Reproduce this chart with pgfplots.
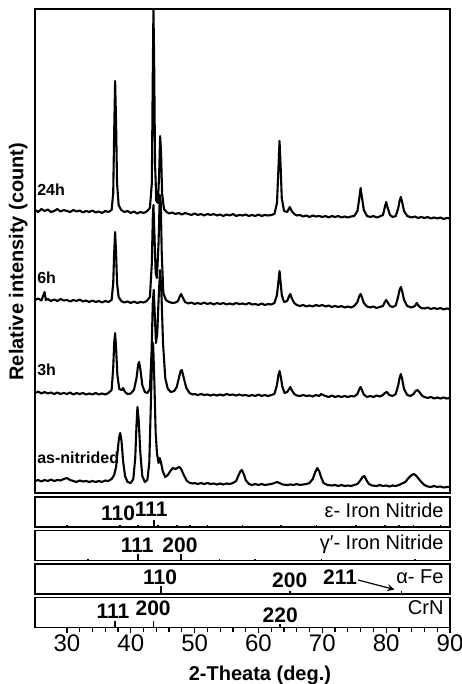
\documentclass[border=0pt]{standalone}
\usepackage{fontspec}
\setmainfont{Liberation Sans}
\usepackage{pgfplots}
\pgfplotsset{compat=1.18}

% diffraction patterns, offset in plot units (1 unit = 0.5pt)
\pgfplotstableread{
x y
25 283
25.5 281
26 284
26.5 282
27 283.5
27.5 281
28 282
28.5 284
29 281.5
29.5 283
30 282
30.5 281
31 283
31.5 281.5
32 282.5
32.5 280.5
33 282
33.5 281
34 282.5
34.5 280.5
35 281.5
35.5 280
36 282
36.5 281
37 283
37.25 300
37.4 360
37.55 412
37.7 370
37.85 310
38.1 288
38.5 283
39 281
39.5 282
40 280
40.5 281.5
41 279.5
41.5 281
42 280
42.5 281.5
43 285
43.3 310
43.45 420
43.55 483
43.65 440
43.8 330
44 292
44.25 290
44.45 320
44.6 357
44.75 340
44.9 300
45.2 284
45.6 281
46 279.5
46.5 280.5
47 279
47.5 280
48 278.5
48.5 280
49 279
49.5 278
50 279.5
50.5 278
51 279
51.5 277.5
52 279
52.5 278
53 279
53.5 277.5
54 278.5
54.5 277
55 278.5
55.5 277.5
56 279
56.5 277
57 278
57.5 277.5
58 278.5
58.5 277
59 278
59.5 277
60 278.5
60.5 277
61 278
61.5 277.5
62 278
62.5 279
62.9 290
63.1 320
63.3 352
63.45 330
63.65 295
64 282
64.5 281
64.9 286
65.2 282
65.6 279
66 277.5
66.5 278
67 276.5
67.5 277.5
68 276
68.5 277.5
69 276.5
69.5 277
70 276
70.5 277
71 275.5
71.5 277
72 276
72.5 277
73 275.5
73.5 276.5
74 275.5
74.5 276.5
75 277
75.5 282
75.8 295
76 305
76.2 296
76.5 283
77 277
77.5 276
78 277
78.5 275.5
79 276.5
79.5 278
79.8 286
80 291
80.2 286
80.6 278
81 276
81.5 277
81.9 285
82.1 292
82.3 296
82.5 291
82.8 282
83.3 277
84 275.5
84.5 276.5
85 275
85.5 276
86 275
86.5 276
87 274.5
87.5 275.5
88 274.5
88.5 275.5
89 274
89.5 275
90 274.5
}\hTwentyFour

\pgfplotstableread{
x y
25 193
25.5 194.5
26 192.5
26.5 201
26.7 193
27 194
27.5 192
28 193.5
28.5 192
29 194
29.5 192.5
30 193
30.5 191.5
31 193
31.5 192
32 193.5
32.5 191.5
33 192.5
33.5 191
34 192.5
34.5 191
35 192
35.5 190.5
36 192
36.5 191
37 193
37.25 210
37.4 240
37.55 261
37.7 240
37.85 210
38.1 196
38.5 192
39 190.5
39.5 191.5
40 190
40.5 191.5
41 190
41.5 191
42 190.5
42.5 192
43 196
43.3 230
43.45 275
43.55 288
43.7 260
43.9 220
44.1 215
44.35 250
44.55 298
44.7 290
44.85 240
45.1 200
45.5 193
46 191
46.5 190
47 190.5
47.4 192
47.7 197
47.9 199
48.1 196
48.5 191
49 189.5
49.5 190.5
50 189
50.5 190
51 189
51.5 190.5
52 189
52.5 190
53 188.5
53.5 190
54 189
54.5 190
55 188.5
55.5 189.5
56 188.5
56.5 190
57 189
57.5 189.5
58 188.5
58.5 190
59 188.5
59.5 189
60 188
60.5 189.5
61 188
61.5 189
62 188.5
62.5 190
62.9 198
63.1 210
63.3 222
63.45 212
63.65 198
64 191
64.5 192
64.8 197
65 199
65.2 195
65.6 190
66 188
66.5 187
67 188
67.5 186.5
68 187.5
68.5 186.5
69 188
69.5 187
70 188
70.5 186.5
71 187.5
71.5 186
72 187
72.5 186
73 187
73.5 185.5
74 186.5
74.5 185.5
75 187
75.5 191
75.8 197
76 199
76.2 196
76.5 190
77 186.5
77.5 185.5
78 186.5
78.5 185
79 186
79.5 187
79.8 191
80 193
80.2 191
80.6 187
81 186
81.5 187.5
81.9 197
82.1 203
82.3 206
82.5 202
82.8 193
83.3 187
84 185.5
84.5 187
84.8 190
85.1 187
85.5 185
86 184.5
86.5 185.5
87 184
87.5 185
88 184
88.5 185
89 183.5
89.5 184.5
90 184
}\hSix

\pgfplotstableread{
x y
25 100
25.5 101.5
26 99.5
26.5 101
27 99.5
27.5 100.5
28 99
28.5 100.5
29 99
29.5 100
30 99
30.5 100.5
31 98.5
31.5 100
32 99
32.5 100
33 98.5
33.5 99.5
34 98.5
34.5 100
35 98.5
35.5 99.5
36 98.5
36.5 100
37 103
37.25 125
37.4 150
37.55 160
37.7 145
37.9 118
38.2 104
38.6 103
38.8 105
39.1 101
39.5 99
40 99.5
40.5 103
40.9 115
41.15 128
41.3 131
41.5 124
41.8 108
42.2 101
42.6 100
43 104
43.25 140
43.45 190
43.6 203
43.75 180
43.95 150
44.15 160
44.4 200
44.6 223
44.8 200
45.05 150
45.4 115
45.8 104
46.3 101
46.8 102
47.2 106
47.5 114
47.8 122
48 123
48.3 115
48.7 105
49.2 100
49.7 98.5
50 99
50.5 98
51 99
51.5 98
52 98.5
52.5 97.5
53 98.5
53.5 97.5
54 98.5
54.5 97.5
55 99
55.5 98
56 98.5
56.5 97.5
57 98.5
57.5 97.5
58 98
58.5 97
59 98
59.5 97
60 98.5
60.5 97
61 98
61.5 97
62 98
62.5 99
62.9 108
63.1 117
63.3 122
63.5 116
63.75 106
64.1 100
64.5 101
64.8 104
65 106
65.2 103
65.6 99
66 97.5
66.5 97
67 98
67.5 97
68 97.5
68.5 96.5
69 98
69.5 97
69.8 99
70.1 98
70.5 97
71 96
71.5 97.5
72 96
72.5 97
73 96
73.5 97
74 96
74.5 97
75 96.5
75.5 99
75.8 104
76 106
76.2 103
76.5 98.5
77 96
77.5 97
78 96
78.5 97.5
79 96.5
79.5 98
79.8 100
80.1 101
80.5 98
81 97
81.5 99
81.9 108
82.1 115
82.3 119
82.5 114
82.8 104
83.3 98
83.8 97
84.3 99
84.6 102
84.9 103
85.2 101
85.6 97.5
86 96
86.5 95
87 96
87.5 94.5
88 95.5
88.5 94.5
89 95.5
89.5 94.5
90 95
}\hThree

\pgfplotstableread{
x y
25 12
25.5 13
26 11.5
26.5 13
27 12
27.5 13.5
28 12
28.5 13
29 12.5
29.5 14
30 15
30.5 13
31 12
31.5 11
32 12.5
32.5 11.5
33 12
33.5 11
34 12
34.5 11
35 12
35.5 11
36 12.5
36.5 12
37 14
37.4 18
37.7 26
37.95 42
38.15 55
38.35 60
38.55 52
38.8 32
39.1 17
39.5 11
40 10
40.4 14
40.7 35
40.9 68
41.05 86
41.25 72
41.5 40
41.8 17
42.2 11
42.6 13
42.9 30
43.15 90
43.35 140
43.5 150
43.7 110
43.9 60
44.1 40
44.35 30
44.55 35
44.75 30
45 22
45.4 16
45.8 18
46.2 22
46.6 25
47 24
47.3 25
47.6 26
47.9 24
48.3 18
48.8 12
49.3 10
49.8 9.5
50 10
50.5 9
51 10
51.5 9
52 10
52.5 9
53 9.5
53.5 8.5
54 9.5
54.5 8.5
55 9.5
55.5 9
56 10
56.5 12
56.9 18
57.2 22
57.4 23
57.7 19
58 13
58.5 9
59 8
59.5 9
60 8
60.5 9
61 8
61.5 8.5
62 9
62.5 10
62.9 11
63.3 10
63.8 8.5
64.5 8
65 8.5
65.5 8
66 9
66.5 8
67 8.5
67.5 9
68 10
68.5 14
68.9 21
69.2 25
69.5 22
69.8 16
70.2 10
70.8 8
71.5 7.5
72 8
72.5 7
73 8
73.5 7
74 7.5
74.5 7
75 8
75.5 9
76 13
76.3 16
76.6 17
76.9 13
77.3 9
77.8 7.5
78.5 7
79 8
79.5 7
80 7.5
80.5 6.5
81 7.5
81.5 7
82 8
82.5 9.5
83 11
83.5 15
84 18
84.3 19
84.6 18
85 15
85.5 11
86 8
86.5 6.5
87 6
87.5 7
88 6
88.5 6.5
89 5.5
89.5 6
90 6
}\hAsNit

\begin{document}
\begin{tikzpicture}
\useasboundingbox (-17.5pt,-95.5pt) rectangle (213pt,246.5pt);
\pgfplotsset{
  panel/.style={scale only axis, width=207.5pt, height=15pt,
    xmin=25, xmax=90, ymin=0, ymax=30,
    axis line style={line width=0.8pt}, xtick=\empty, ytick=\empty, clip=false},
  refl/.style={ycomb, black, line width=0.8pt, no marks},
}
\newcommand{\hkl}{\bfseries\fontsize{10.5}{12}\selectfont}
\newcommand{\phase}{\fontsize{10}{12}\selectfont}
\newcommand{\curve}{\bfseries\fontsize{8}{9.5}\selectfont}

\begin{axis}[name=main, at={(0,0)}, anchor=south west, scale only axis,
  width=207.5pt, height=242pt, xmin=25, xmax=90, ymin=0, ymax=484,
  xtick=\empty, ytick=\empty, axis line style={line width=0.8pt},
  ylabel={Relative intensity (count)},
  ylabel style={font=\bfseries\fontsize{10}{12}\selectfont, inner sep=0pt,
    at={(axis description cs:-0.0169,0.478)}, anchor=south},
]
\addplot[black, line width=1.05pt, line join=round] table {\hTwentyFour};
\addplot[black, line width=1.05pt, line join=round] table {\hSix};
\addplot[black, line width=1.05pt, line join=round] table {\hThree};
\addplot[black, line width=1.05pt, line join=round] table {\hAsNit};
\node[anchor=west, font=\curve, inner sep=0pt] at (axis cs:25.3,303) {24h};
\node[anchor=west, font=\curve, inner sep=0pt] at (axis cs:25.3,215) {6h};
\node[anchor=west, font=\curve, inner sep=0pt] at (axis cs:25.3,123) {3h};
\node[anchor=west, font=\curve, inner sep=0pt] at (axis cs:25.3,35) {as-nitrided};
\end{axis}

% epsilon iron nitride
\begin{axis}[panel, name=eps, at={(0,-2pt)}, anchor=north west]
\addplot[refl] coordinates {(30,2) (38.3,2) (41.1,2) (44.3,2) (47.2,2) (49.3,2) (52,2) (57.5,2) (63.5,2) (69.1,2) (75.3,2) (79.8,2) (82,2) (84.3,2) (88.5,2)};
\addplot[refl] coordinates {(43.6,7)};
\node[font=\hkl] at (axis cs:38.0,14) {110};
\node[font=\hkl] at (axis cs:43.2,18) {111};
\node[font=\phase, anchor=east, inner sep=0pt] at (axis cs:89.05,17) {ε- Iron Nitride};
\end{axis}

% gamma' iron nitride
\begin{axis}[panel, name=gam, at={(0,-18.75pt)}, anchor=north west]
\addplot[refl] coordinates {(33.3,2) (53.9,2) (59.5,2) (69.9,2) (84.5,2)};
\addplot[refl] coordinates {(41.1,7) (47.9,7)};
\node[font=\hkl] at (axis cs:41.0,15.5) {111};
\node[font=\hkl] at (axis cs:47.7,15.5) {200};
\node[font=\phase, anchor=east, inner sep=0pt] at (axis cs:89.05,16.5) {γ′- Iron Nitride};
\end{axis}

% alpha Fe
\begin{axis}[panel, name=alp, at={(0,-35.5pt)}, anchor=north west]
\addplot[refl] coordinates {(44.7,8)};
\addplot[refl] coordinates {(64.9,3) (82.4,3)};
\node[font=\hkl] at (axis cs:44.6,16.5) {110};
\node[font=\hkl] at (axis cs:64.9,14) {200};
\node[font=\hkl] at (axis cs:72.8,16.5) {211};
\draw[-stealth, line width=0.6pt] (axis cs:75.6,14) -- (axis cs:81.3,4.5);
\node[font=\phase, anchor=east, inner sep=0pt] at (axis cs:89.05,17) {α- Fe};
\end{axis}

% CrN
\begin{axis}[panel, name=crn, at={(0,-52.25pt)}, anchor=north west,
  xtick={30,40,...,90}, minor x tick num=4, tick align=outside,
  xtick pos=bottom, major tick length=2.5pt, minor tick length=2pt,
  tick style={line width=0.6pt, black},
  /pgf/number format/assume math mode=true,
  xticklabel style={font=\fontsize{12}{14}\selectfont, inner sep=1pt},
  xlabel={2-Theata (deg.)},
  xlabel style={font=\bfseries\fontsize{10}{12}\selectfont,
    at={(axis description cs:0.542,-1.6)}, anchor=center},
]
\addplot[refl] coordinates {(37.55,7) (43.55,7)};
\addplot[refl] coordinates {(63.4,4)};
\node[font=\hkl] at (axis cs:37.2,16) {111};
\node[font=\hkl] at (axis cs:43.5,19.5) {200};
\node[font=\hkl] at (axis cs:63.4,12) {220};
\node[font=\phase, anchor=east, inner sep=0pt] at (axis cs:89.05,19.5) {CrN};
\end{axis}
\end{tikzpicture}
\end{document}
